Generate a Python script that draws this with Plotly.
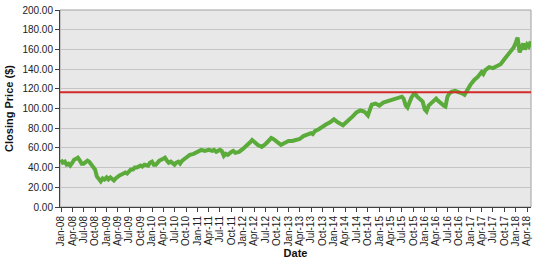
import plotly.graph_objects as go

dates = [
"2008-01-01","2008-01-15","2008-02-01","2008-02-15","2008-03-01","2008-03-15","2008-04-01","2008-04-15",
"2008-05-01","2008-05-15","2008-06-01","2008-06-15","2008-07-01","2008-07-15","2008-08-01","2008-08-15",
"2008-09-01","2008-09-15","2008-10-01","2008-10-15","2008-11-01","2008-11-15","2008-12-01","2008-12-15",
"2009-01-01","2009-01-15","2009-02-01","2009-02-15","2009-03-01","2009-03-15","2009-04-01","2009-04-15",
"2009-05-01","2009-05-15","2009-06-01","2009-06-15","2009-07-01","2009-07-15","2009-08-01","2009-08-15",
"2009-09-01","2009-10-01","2009-10-15","2009-11-01","2009-12-01","2009-12-15",
"2010-01-01","2010-01-15","2010-02-01","2010-02-15","2010-03-01","2010-04-01","2010-04-15","2010-05-01",
"2010-05-15","2010-06-01","2010-06-15","2010-07-01","2010-07-15","2010-08-01","2010-08-15","2010-09-01",
"2010-10-01","2010-10-15","2010-11-01","2010-12-01","2010-12-15",
"2011-01-01","2011-02-01","2011-03-01","2011-04-01","2011-05-01","2011-05-15","2011-06-01","2011-07-01",
"2011-07-15","2011-08-01","2011-08-15","2011-09-01","2011-10-01","2011-10-15","2011-11-01","2011-12-01",
"2012-01-01","2012-02-01","2012-03-01","2012-03-15","2012-04-01","2012-05-01","2012-06-01","2012-06-15",
"2012-07-01","2012-08-01","2012-08-15","2012-09-01","2012-10-01","2012-11-01","2012-11-15","2012-12-01",
"2013-01-01","2013-02-01","2013-03-01","2013-04-01","2013-05-01","2013-06-01","2013-07-01","2013-07-15",
"2013-08-01","2013-09-01","2013-10-01","2013-11-01","2013-12-01",
"2014-01-01","2014-02-01","2014-03-01","2014-03-15","2014-04-01","2014-05-01","2014-06-01","2014-07-01",
"2014-08-01","2014-09-01","2014-10-01","2014-10-15","2014-11-01","2014-12-01",
"2015-01-01","2015-02-01","2015-03-01","2015-04-01","2015-05-01","2015-06-01","2015-07-01","2015-07-15",
"2015-08-01","2015-08-15","2015-09-01","2015-09-15","2015-10-01","2015-10-15","2015-11-01","2015-12-01",
"2015-12-15",
"2016-01-01","2016-01-15","2016-02-01","2016-03-01","2016-04-01","2016-04-15","2016-05-01","2016-06-01",
"2016-06-15","2016-07-01","2016-07-15","2016-08-01","2016-09-01","2016-10-01","2016-11-01","2016-11-15",
"2016-12-01","2016-12-15",
"2017-01-01","2017-02-01","2017-03-01","2017-04-01","2017-04-15","2017-05-01","2017-06-01","2017-07-01",
"2017-08-01","2017-09-01","2017-10-01","2017-11-01","2017-12-01","2017-12-15",
"2018-01-01","2018-01-15","2018-02-01","2018-02-15","2018-03-01","2018-03-15","2018-04-01","2018-04-15",
"2018-05-01",
]

closing_price = [
48,45,46,43,44,42,45,48,
49,50,47,44,44,45,47,46,
43,42,38,31,28,26,29,28,
30,28,30,29,27,29,31,32,
33,34,35,34,37,38,38,40,
40,42,41,43,42,45,
46,43,43,45,47,49,50,47,
45,46,44,43,45,46,44,47,
50,52,53,54,55,
56,58,57,58,57,58,56,58,
57,52,54,53,56,57,55,56,
59,62,66,68,66,63,61,62,
64,68,70,69,66,63,64,65,
67,67,68,69,72,74,75,74,
77,79,82,84,86,
89,86,84,83,85,88,92,96,
98,97,93,98,104,105,
103,106,107,108,109,110,112,110,
103,101,108,111,114,115,112,109,
107,
99,97,103,107,110,108,106,103,
102,112,115,117,118,117,115,114,
118,120,
124,129,132,137,135,139,142,141,
143,145,150,155,159,162,
167,172,157,162,166,160,165,163,
168,
]

reference_level = 116.5

fig = go.Figure()
fig.add_trace(go.Scatter(
    x=dates, y=closing_price, mode="lines",
    line=dict(color="#5aab3a", width=4), showlegend=False,
))
fig.add_hline(y=reference_level, line=dict(color="#d42a2a", width=2))

fig.update_layout(
    width=535, height=259,
    margin=dict(l=60, r=3, t=10, b=49),
    paper_bgcolor="white", plot_bgcolor="#e8e8e8",
    font=dict(family="Liberation Sans, Arial, sans-serif", size=10, color="#222222"),
    showlegend=False,
)
fig.update_xaxes(
    type="date", range=["2007-12-24", "2018-05-03"],
    tick0="2008-01-01", dtick="M3", tickformat="%b-%y", tickangle=-90,
    ticks="outside", ticklen=4, tickcolor="#404040",
    showline=True, linecolor="#404040", linewidth=1,
    showgrid=False, zeroline=False,
    title=dict(text="<b>Date</b>", font=dict(size=11, color="#111111"), standoff=2),
)
fig.update_yaxes(
    range=[0, 200], tick0=0, dtick=20, tickformat=".2f",
    ticks="outside", ticklen=4, tickcolor="#404040",
    showline=True, linecolor="#404040", linewidth=1,
    showgrid=True, gridcolor="#c4c4c4", gridwidth=1, zeroline=False,
    title=dict(text="<b>Closing Price ($)</b>", font=dict(size=11, color="#111111"), standoff=6),
)
fig.add_shape(type="rect", xref="paper", yref="paper", x0=0, y0=0, x1=1, y1=1,
              line=dict(color="#a0a0a0", width=1), layer="below")

fig.write_html("out.html")
